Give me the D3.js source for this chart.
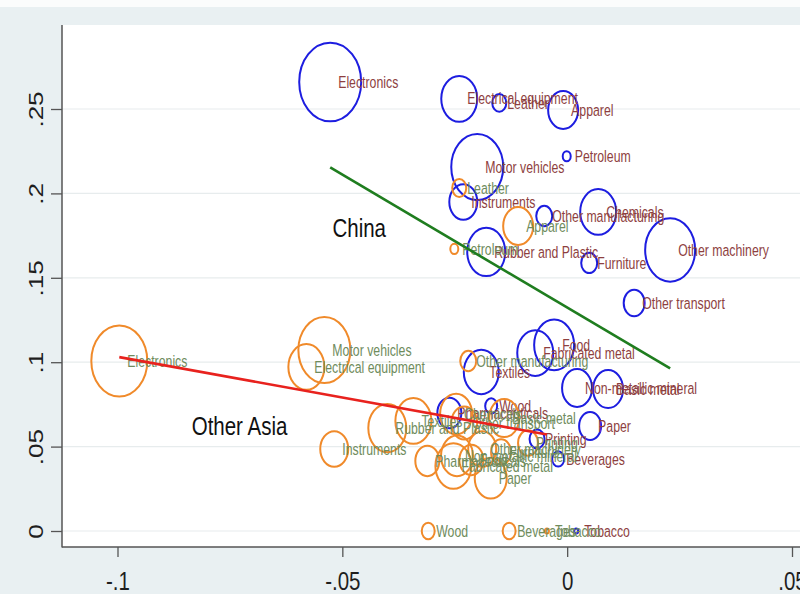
<!DOCTYPE html>
<html>
<head>
<meta charset="utf-8">
<script src="https://cdn.jsdelivr.net/npm/d3@7"></script>
<style>
  body { margin: 0; background: #ffffff; }
  svg { display: block; font-family: "Liberation Sans", Arial, sans-serif; }
</style>
</head>
<body>
<svg id="chart" width="800" height="594"></svg>
<script>
// ---- China: relative price change (x) vs. import share (y), marker weight = trade weight
const chinaLabels = ["Electronics", "Electrical equipment", "Leather", "Apparel", "Petroleum",
  "Motor vehicles", "Instruments", "Other manufacturing", "Chemicals", "Rubber and Plastic",
  "Furniture", "Other machinery", "Other transport", "Food", "Fabricated metal", "Textiles",
  "Non-metallic mineral", "Basic metal", "Paper", "Wood", "Pharmaceuticals", "Printing",
  "Beverages", "Tobacco"];
const chinaX = [-0.0527, -0.0240, -0.0151, -0.0009, -0.0001, -0.0200, -0.0231, -0.0051, 0.0069,
  -0.0180, 0.0049, 0.0229, 0.0149, -0.0029, -0.0071, -0.0191, 0.0022, 0.0091, 0.0051, -0.0169,
  -0.0262, -0.0067, -0.0020, 0.0020];
const chinaY = [0.266, 0.256, 0.2536, 0.2494, 0.222, 0.2156, 0.1949, 0.1866, 0.189, 0.1653,
  0.1588, 0.1665, 0.1351, 0.1102, 0.1054, 0.0942, 0.0847, 0.0841, 0.0622, 0.0741, 0.0699,
  0.0545, 0.0427, 0.0];
const chinaW = [9.61, 3.24, 0.49, 2.25, 0.16, 6.76, 1.96, 0.64, 3.24, 3.61, 0.64, 6.25, 1.10,
  4.00, 3.24, 3.06, 2.25, 2.25, 1.21, 0.36, 1.44, 0.56, 0.36, 0.04];

// ---- Other Asia
const asiaLabels = ["Electronics", "Motor vehicles", "Electrical equipment", "Instruments",
  "Rubber and Plastic", "Textiles", "Leather", "Apparel", "Petroleum", "Other manufacturing",
  "Wood", "Beverages", "Tobacco", "Pharmaceuticals", "Paper", "Fabricated metal",
  "Other machinery", "Chemicals", "Basic metal", "Other transport", "Food", "Furniture",
  "Printing", "Non-metallic mineral"];
const asiaX = [-0.0996, -0.0540, -0.0580, -0.0518, -0.0400, -0.0342, -0.0240, -0.0109, -0.0251,
  -0.0220, -0.0309, -0.0129, -0.0045, -0.0311, -0.0170, -0.0253, -0.0189, -0.0247, -0.0140,
  -0.0229, -0.0213, -0.0147, -0.0087, -0.0245];
const asiaY = [0.1007, 0.1072, 0.0972, 0.0486, 0.0610, 0.0652, 0.2032, 0.1807, 0.1671, 0.1007,
  0, 0, 0, 0.0415, 0.0313, 0.0385, 0.0486, 0.0693, 0.0669, 0.0640, 0.0421, 0.0468, 0.0521, 0.0445];
const asiaW = [7.84, 6.76, 3.24, 1.96, 3.61, 3.24, 0.49, 2.25, 0.16, 0.64, 0.42, 0.42, 0.04,
  1.44, 2.56, 3.24, 1.96, 2.56, 2.25, 1.69, 1.44, 1.00, 1.00, 2.56];

// ---- Linear fits: [China, Other Asia]
const fitNames = ["China", "Other Asia"];
const fitIntercept = [0.1324, 0.0550];
const fitSlope = [-1.574, -0.482];

// ---- Axis ticks
const xTicks = [-0.1, -0.05, 0, 0.05];
const xTickLabels = ["-.1", "-.05", "0", ".05"];
const yTicks = [0, 0.05, 0.1, 0.15, 0.2, 0.25];
const yTickLabels = ["0", ".05", ".1", ".15", ".2", ".25"];

// ---------------------------------------------------------------
const W = 800, H = 594;
const plot = { left: 62, top: 25, right: 800, bottom: 547 };
const stretch = 1.27;           // vertical aspect of markers and text

const x = d3.scaleLinear().domain([-0.1, 0.05]).range([117.5, 792]);
const y = d3.scaleLinear().domain([0, 0.25]).range([531, 109]);
const r = d3.scaleSqrt().domain([0, 10]).range([0, 31.6]);

const svg = d3.select("#chart");

// graph region and plot region
svg.append("rect").attr("width", W).attr("height", H).attr("fill", "#e9f0f2");
svg.append("rect").attr("width", W).attr("height", 7).attr("fill", "#fbfcfc");
svg.append("rect")
  .attr("x", plot.left).attr("y", plot.top)
  .attr("width", plot.right - plot.left).attr("height", plot.bottom - plot.top)
  .attr("fill", "#ffffff");

// horizontal grid
svg.append("g").selectAll("line").data(yTicks).join("line")
  .attr("x1", plot.left).attr("x2", plot.right)
  .attr("y1", d => y(d)).attr("y2", d => y(d))
  .attr("stroke", "#e7eced").attr("stroke-width", 1.2);

// axes
const yAxis = svg.append("g")
  .attr("transform", `translate(${plot.left},0)`)
  .call(d3.axisLeft(y).tickValues(yTicks).tickSize(11)
    .tickFormat((d, i) => yTickLabels[i]));
yAxis.select(".domain").remove();
yAxis.selectAll(".tick line").attr("stroke", "#555").attr("stroke-width", 1.3);
yAxis.selectAll(".tick text")
  .attr("x", 0).attr("dy", 0)
  .attr("text-anchor", "middle")
  .attr("transform", `translate(-19,0) rotate(-90) scale(${stretch},1)`)
  .attr("font-size", 20.5).attr("fill", "#1e1e1e")
  .attr("font-family", "Liberation Sans, Arial, sans-serif");

const xAxis = svg.append("g")
  .attr("transform", `translate(0,${plot.bottom})`)
  .call(d3.axisBottom(x).tickValues(xTicks).tickSize(10)
    .tickFormat((d, i) => xTickLabels[i]));
xAxis.select(".domain").remove();
xAxis.selectAll(".tick line").attr("stroke", "#555").attr("stroke-width", 1.3);
xAxis.selectAll(".tick text")
  .attr("y", 0).attr("dy", 0)
  .attr("transform", `translate(0,43) scale(1,${stretch})`)
  .attr("font-size", 20.5).attr("fill", "#1e1e1e")
  .attr("font-family", "Liberation Sans, Arial, sans-serif");

// axis lines
svg.append("line").attr("x1", plot.left).attr("x2", plot.left)
  .attr("y1", plot.top).attr("y2", plot.bottom + 0.5)
  .attr("stroke", "#555").attr("stroke-width", 1.5);
svg.append("line").attr("x1", plot.left).attr("x2", plot.right)
  .attr("y1", plot.bottom).attr("y2", plot.bottom)
  .attr("stroke", "#555").attr("stroke-width", 1.5);

// weighted hollow markers with labels
function drawSeries(labels, xs, ys, ws, stroke, labelColor) {
  const rows = labels.map((name, i) => ({ name, x: xs[i], y: ys[i], w: ws[i] }));
  const g = svg.append("g");
  g.selectAll("ellipse").data(rows).join("ellipse")
    .attr("cx", d => x(d.x)).attr("cy", d => y(d.y))
    .attr("rx", d => Math.max(r(d.w), 2))
    .attr("ry", d => Math.max(r(d.w), 2) * stretch)
    .attr("fill", "none").attr("stroke", stroke).attr("stroke-width", 2);
  g.selectAll("text").data(rows).join("text")
    .attr("transform", d => `translate(${x(d.x) + 8},${y(d.y)}) scale(1,${stretch})`)
    .attr("dy", "0.36em")
    .attr("font-size", 12.3).attr("fill", labelColor)
    .text(d => d.name);
  return rows;
}

const chinaRows = drawSeries(chinaLabels, chinaX, chinaY, chinaW, "#1d1de0", "#8e3f3f");
const asiaRows = drawSeries(asiaLabels, asiaX, asiaY, asiaW, "#f08a2a", "#6f8c5d");

// fitted lines over each group's x range
const fitColors = ["#1f7d1f", "#e8221e"];
[chinaRows, asiaRows].forEach((rows, k) => {
  const [x0, x1] = d3.extent(rows, d => d.x);
  const f = v => fitIntercept[k] + fitSlope[k] * v;
  svg.append("line")
    .attr("x1", x(x0)).attr("y1", y(f(x0)))
    .attr("x2", x(x1)).attr("y2", y(f(x1)))
    .attr("stroke", fitColors[k]).attr("stroke-width", 2.6);
});

// group annotations
const noteX = [-0.0522, -0.0835];
const noteY = [0.1795, 0.0625];
fitNames.forEach((name, k) => {
  svg.append("text")
    .attr("transform", `translate(${x(noteX[k])},${y(noteY[k])}) scale(1,${stretch})`)
    .attr("dy", "0.36em")
    .attr("font-size", 20.5).attr("fill", "#111")
    .text(name);
});
</script>
</body>
</html>
